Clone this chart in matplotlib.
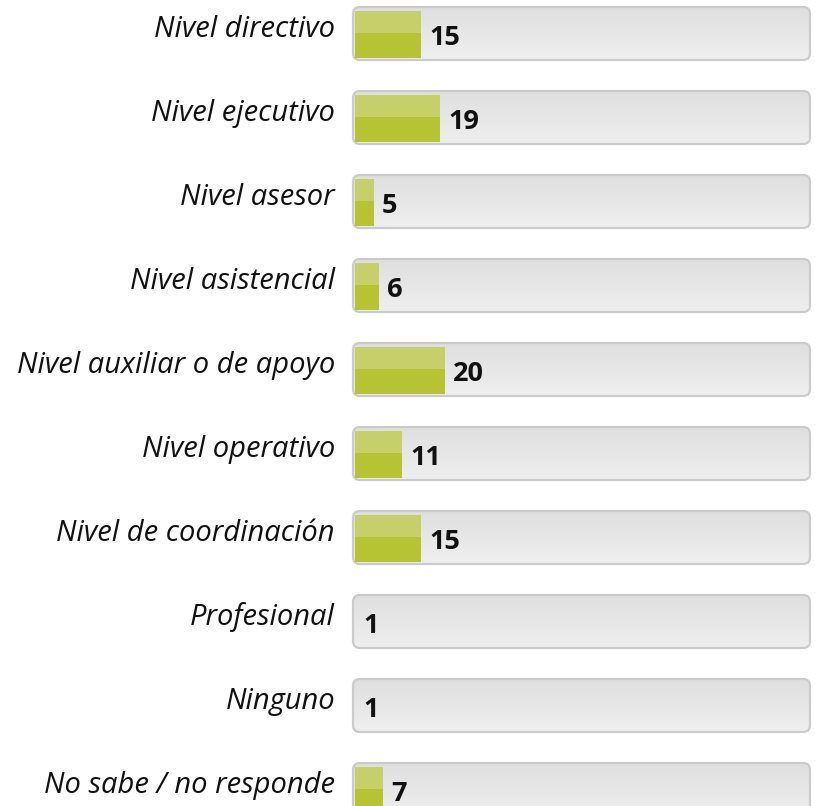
import matplotlib
matplotlib.use("Agg")
import matplotlib.pyplot as plt
from matplotlib.patches import FancyBboxPatch
from matplotlib.colors import LinearSegmentedColormap
import numpy as np

categories = [
    "Nivel directivo",
    "Nivel ejecutivo",
    "Nivel asesor",
    "Nivel asistencial",
    "Nivel auxiliar o de apoyo",
    "Nivel operativo",
    "Nivel de coordinación",
    "Profesional",
    "Ninguno",
    "No sabe / no responde",
]
values = [15, 19, 5, 6, 20, 11, 15, 1, 1, 7]

W, H = 815, 806
fig = plt.figure(figsize=(W / 100, H / 100), dpi=100)

bg = fig.add_axes([0, 0, 1, 1])
bg.set_xlim(0, W)
bg.set_ylim(H, 0)
bg.axis("off")

row0, step = 33.5, 84.0
centers = [row0 + i * step for i in range(len(categories))]
box_h = 53
box_x0, box_x1 = 353, 810

grad = np.linspace(0, 1, 64).reshape(-1, 1)
cmap = LinearSegmentedColormap.from_list("g", ["#e0dfe0", "#efefef"])
for c in centers:
    y0 = c - box_h / 2
    patch = FancyBboxPatch((box_x0, y0), box_x1 - box_x0, box_h,
                           boxstyle="round,pad=0,rounding_size=7",
                           facecolor="#e7e7e7", edgecolor="none", zorder=1)
    bg.add_patch(patch)
    im = bg.imshow(grad, cmap=cmap, aspect="auto",
                   extent=(box_x0, box_x1, y0 + box_h, y0), zorder=1.5)
    im.set_clip_path(patch)
    edge = FancyBboxPatch((box_x0, y0), box_x1 - box_x0, box_h,
                          boxstyle="round,pad=0,rounding_size=7",
                          facecolor="none", edgecolor="#cbcbcb", lw=1.6,
                          zorder=2)
    bg.add_patch(edge)

ax = fig.add_axes([355 / W, 0, (808 - 355) / W, 1])
ax.set_xlim(1, 97)
ax.set_ylim(H, 0)
ax.patch.set_alpha(0)
for s in ax.spines.values():
    s.set_visible(False)
ax.set_xticks([])
ax.set_yticks([])

bar_h = 47
half_top = 22
tops = [c - bar_h / 2 + 0.5 for c in centers]
ax.barh([t + half_top / 2 for t in tops], values, height=half_top,
        color="#c5d06b", left=0, zorder=3)
ax.barh([t + half_top + (bar_h - half_top) / 2 for t in tops], values,
        height=bar_h - half_top, color="#b6c433", left=0, zorder=3)

fam = ["Open Sans", "DejaVu Sans"]
for cat, c in zip(categories, centers):
    ax.annotate(cat, xy=(0, c), xycoords=("axes fraction", "data"),
                xytext=(-20, -3.5), textcoords="offset pixels",
                ha="right", va="baseline", fontsize=21, fontstyle="italic",
                color="#111111", family=fam, annotation_clip=False)

for v, c in zip(values, centers):
    ax.annotate(str(v), xy=(max(v, 1), c), xytext=(8, -11.5),
                textcoords="offset pixels", ha="left", va="baseline",
                fontsize=19.5, fontweight="bold",
                color="#111111", family=fam, zorder=4)

fig.savefig("out.png", dpi=100)
